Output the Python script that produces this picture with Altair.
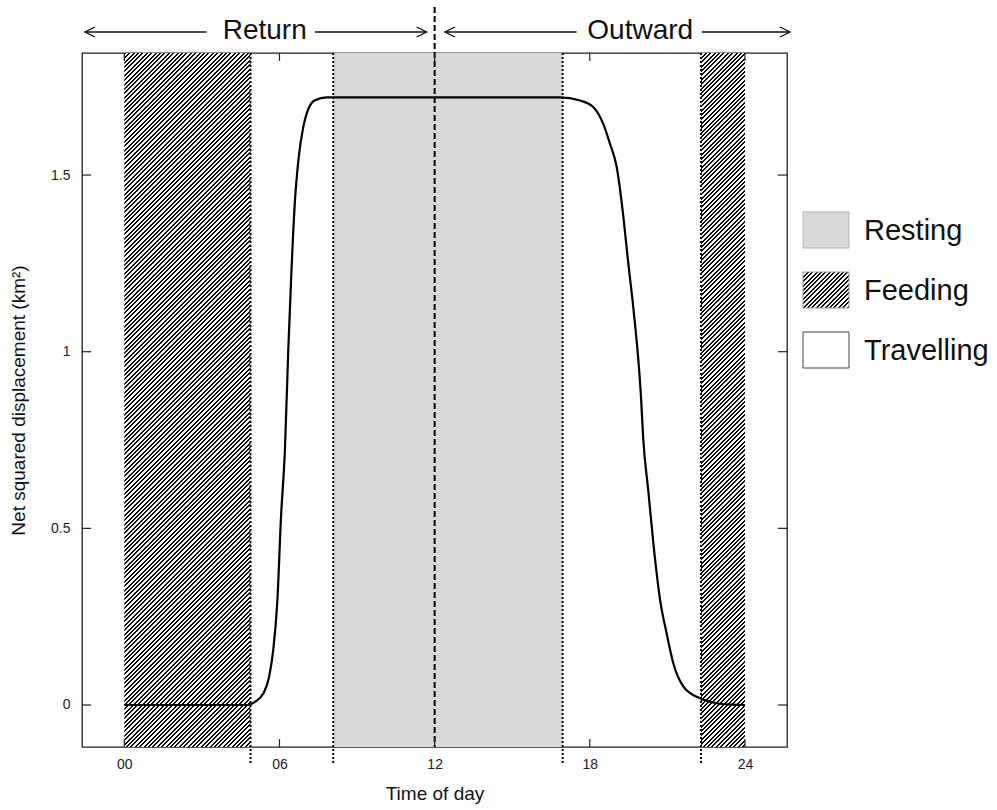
import math
import altair as alt
import pandas as pd

# ---------------- data ----------------
curve_hours = [0, 2, 4.8, 5.05, 5.38, 5.60, 5.76, 5.92, 6.06, 6.21, 6.34, 6.47, 6.60, 6.73,
               6.92, 7.05, 7.37, 7.83, 8.1, 12, 16.85, 17.62, 18.14, 18.52, 18.78, 19.04,
               19.30, 19.49, 19.68, 19.98, 20.07, 20.26, 20.46, 20.72, 20.97, 21.23, 21.62,
               22.26, 22.91, 23.5, 24.0]
curve_nsd = [0, 0, 0, 0.009, 0.033, 0.080, 0.156, 0.297, 0.533, 0.721, 1.004, 1.240, 1.429,
             1.541, 1.636, 1.674, 1.712, 1.72, 1.72, 1.72, 1.72, 1.711, 1.692, 1.645, 1.589,
             1.523, 1.381, 1.249, 1.127, 0.872, 0.750, 0.608, 0.457, 0.297, 0.203, 0.118,
             0.052, 0.019, 0.005, 0.001, 0.0]

resting_start = [8.08]
resting_end = [16.95]
feeding_start = [0.0, 22.3]
feeding_end = [4.88, 24.0]
boundary_hours = [4.88, 8.08, 16.95, 22.3]
midday_hours = [12]

xtick_values = [0, 6, 12, 18, 24]
xtick_labels = ["00", "06", "12", "18", "24"]
ytick_values = [0, 0.5, 1, 1.5]
ytick_labels = ["0", "0.5", "1", "1.5"]

phase_labels = ["Return", "Outward"]
phase_centers = [5.43, 19.95]
arrow_from = [3.18, 7.37, 17.49, 22.33]
arrow_to = [-1.52, 11.69, 12.40, 25.74]

legend_labels = ["Resting", "Feeding", "Travelling"]

# ---------------- layout / style ----------------
W, H = 705, 694
X_DOM = [-1.636, 25.626]
Y_DOM = [-0.1189, 1.8455]
PX_PER_HR = W / (X_DOM[1] - X_DOM[0])
FONT = "Liberation Sans"
GREY = "#d9d9d9"

xs = alt.Scale(domain=X_DOM, nice=False, zero=False)
ys = alt.Scale(domain=Y_DOM, nice=False, zero=False)


def hatch(w, h, period=4.4, ink=0.45):
    total = w + h
    n = int(math.ceil(total / period))
    stops = []
    for k in range(n):
        a = k * period / total
        b = min((k + ink) * period / total, 1.0)
        c = min((k + 1) * period / total, 1.0)
        if a >= 1:
            break
        stops += [alt.GradientStop(offset=a, color="black"),
                  alt.GradientStop(offset=b, color="black"),
                  alt.GradientStop(offset=b, color="white"),
                  alt.GradientStop(offset=c, color="white")]
    d = w * w + h * h
    return alt.LinearGradient(gradient="linear", stops=stops,
                              x1=0, y1=0, x2=w * total / d, y2=h * total / d)


def expr_map(values, labels):
    e = "''"
    for v, l in reversed(list(zip(values, labels))):
        e = f"datum.value == {v} ? '{l}' : ({e})"
    return e


X_AXIS = alt.Axis(
    values=xtick_values, labelExpr=expr_map(xtick_values, xtick_labels),
    domain=False, ticks=False, tickSize=0, grid=False, labelPadding=10,
    labelFontSize=14, labelColor="#222", labelFont=FONT, labelFlush=False,
    title="Time of day", titleFont=FONT, titleFontSize=19, titleFontWeight="normal",
    titleColor="#111", titleX=W / 2, titleY=46, titleBaseline="middle", titleAlign="center")
Y_AXIS = alt.Axis(
    values=ytick_values, labelExpr=expr_map(ytick_values, ytick_labels),
    domain=False, ticks=False, tickSize=0, grid=False, labelPadding=12,
    labelFontSize=14, labelColor="#222", labelFont=FONT,
    title="Net squared displacement (km²)", titleFont=FONT, titleFontSize=19,
    titleFontWeight="normal", titleColor="#111", titleAngle=270,
    titleX=-64, titleY=H / 2, titleBaseline="middle", titleAlign="center")


def X(field):
    return alt.X(field, scale=xs, axis=X_AXIS, title="Time of day")


def Y(field):
    return alt.Y(field, scale=ys, axis=Y_AXIS, title="Net squared displacement (km²)")


layers = []

# resting period
rest_df = pd.DataFrame({"start": resting_start, "end": resting_end})
layers.append(alt.Chart(rest_df).mark_rect(color=GREY).encode(
    x=X("start:Q"), x2="end:Q", y=alt.value(0), y2=alt.value(H)))

# feeding periods (hatched)
for s, e in zip(feeding_start, feeding_end):
    df = pd.DataFrame({"start": [s], "end": [e]})
    layers.append(alt.Chart(df).mark_rect(fill=hatch((e - s) * PX_PER_HR, H)).encode(
        x=X("start:Q"), x2="end:Q", y=alt.value(0), y2=alt.value(H)))

# curve
curve_df = pd.DataFrame({"hour": curve_hours, "nsd": curve_nsd})
layers.append(alt.Chart(curve_df).mark_line(color="black", strokeWidth=2.2,
                                            interpolate="monotone").encode(
    x=X("hour:Q"), y=Y("nsd:Q")))

# dotted boundaries
bnd_df = pd.DataFrame({"h": boundary_hours})
layers.append(alt.Chart(bnd_df).mark_rule(color="black", strokeWidth=2,
                                          strokeDash=[2, 2]).encode(
    x=X("h:Q"), y=alt.value(0), y2=alt.value(H + 18)))

# dashed midday line
mid_df = pd.DataFrame({"h": midday_hours})
layers.append(alt.Chart(mid_df).mark_rule(color="black", strokeWidth=2,
                                          strokeDash=[6, 3]).encode(
    x=X("h:Q"), y=alt.value(-46), y2=alt.value(H)))

# inward ticks on all four sides
xt_df = pd.DataFrame({"t": xtick_values})
yt_df = pd.DataFrame({"v": ytick_values})
for y0, y1 in [(H, H - 8), (0, 8)]:
    layers.append(alt.Chart(xt_df).mark_rule(color="#222", strokeWidth=1.2).encode(
        x=X("t:Q"), y=alt.value(y0), y2=alt.value(y1)))
for x0, x1 in [(0, 9), (W, W - 9)]:
    layers.append(alt.Chart(yt_df).mark_rule(color="#222", strokeWidth=1.2).encode(
        y=Y("v:Q"), x=alt.value(x0), x2=alt.value(x1)))

# phase arrows and labels above the plot
arr_df = pd.DataFrame({"start": arrow_from, "end": arrow_to})
arr_df["dir"] = ["left" if e < s else "right" for s, e in zip(arrow_from, arrow_to)]
layers.append(alt.Chart(arr_df).mark_rule(color="#111", strokeWidth=1.3).encode(
    x=X("start:Q"), x2="end:Q", y=alt.value(-21)))
layers.append(alt.Chart(arr_df).mark_point(filled=False, color="#111", strokeWidth=1.3,
                                           size=100, opacity=1).encode(
    x=X("end:Q"), y=alt.value(-21),
    shape=alt.Shape("dir:N", scale=alt.Scale(domain=["left", "right"],
                                             range=["M2,-1L0,0L2,1", "M-2,-1L0,0L-2,1"]),
                    legend=None)))
ph_df = pd.DataFrame({"label": phase_labels, "center": phase_centers})
layers.append(alt.Chart(ph_df).mark_text(font=FONT, fontSize=28, color="#111",
                                         baseline="middle", align="center").encode(
    x=X("center:Q"), y=alt.value(-22), text="label:N"))

# legend (drawn manually to the right of the plot)
legend_fill = [GREY, hatch(46, 36), "white"]
legend_stroke = ["#b5b5b5", "#9a9a9a", "#444"]
for i, lab in enumerate(legend_labels):
    ldf = pd.DataFrame({"label": [lab]})
    top = 159 + 60 * i
    layers.append(alt.Chart(ldf).mark_rect(fill=legend_fill[i], stroke=legend_stroke[i],
                                           strokeWidth=1).encode(
        x=alt.value(W + 16), x2=alt.value(W + 62), y=alt.value(top), y2=alt.value(top + 36)))
    layers.append(alt.Chart(ldf).mark_text(font=FONT, fontSize=29, color="#111",
                                           align="left", baseline="middle").encode(
        x=alt.value(W + 77), y=alt.value(top + 19), text="label:N"))

chart = alt.layer(*layers).properties(
    width=W, height=H,
    padding={"left": 82, "top": 53, "right": 997 - 82 - W, "bottom": 810 - 53 - H},
    autosize=alt.AutoSizeParams(type="none"),
).configure_view(stroke="#222", strokeWidth=1.3)

chart.save("out.html", embed_options={"renderer": "svg", "actions": False})
